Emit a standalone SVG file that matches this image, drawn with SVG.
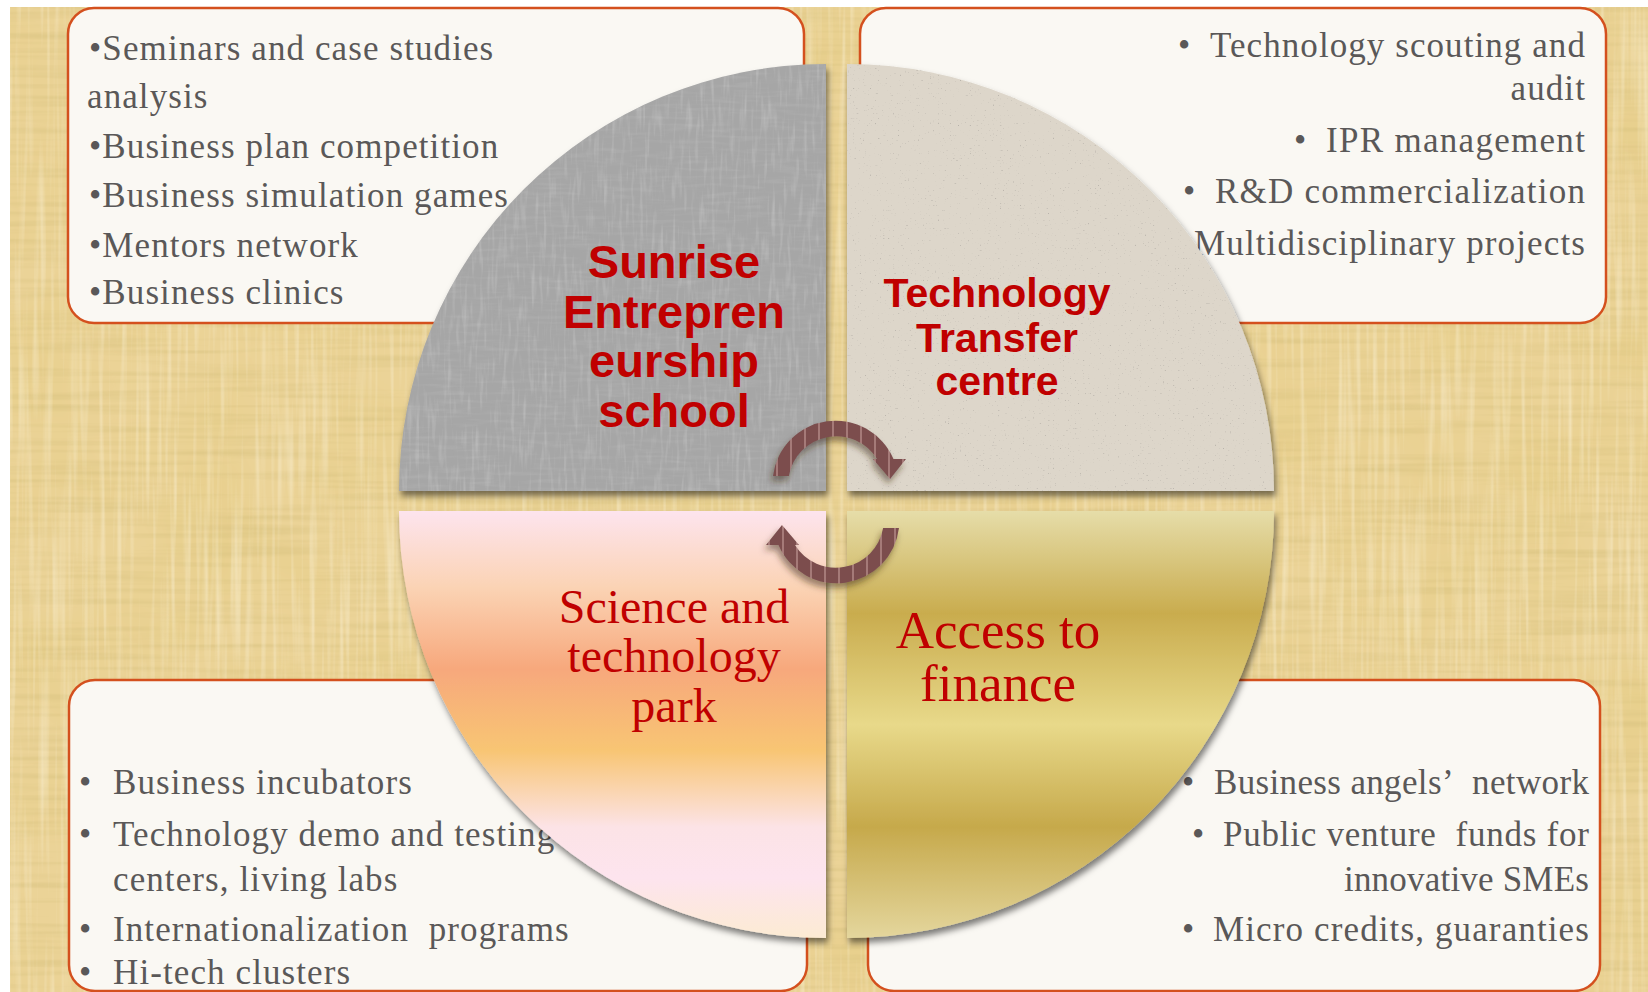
<svg xmlns="http://www.w3.org/2000/svg" width="1648" height="992" viewBox="0 0 1648 992">
  <defs>
    <style>
      .box { fill: #FAF8F3; stroke: #D4501E; stroke-width: 2.5; }
      .item { font-family: "Liberation Serif", "Times New Roman", serif; font-size: 35px; fill: #5A5858; letter-spacing: 1.1px; }
      .item-end { text-anchor: end; }
      .sans-label { font-family: "Liberation Sans", Arial, sans-serif; font-weight: bold; fill: #C00000; text-anchor: middle; }
      .serif-label { font-family: "Liberation Serif", "Times New Roman", serif; fill: #C00000; text-anchor: middle; }
    </style>

    <!-- linen weave for the backdrop -->
    <filter id="linenH" x="0" y="0" width="100%" height="100%">
      <feTurbulence type="fractalNoise" baseFrequency="0.006 0.18" numOctaves="2" seed="3"/>
      <feColorMatrix type="matrix" values="0 0 0 0 0.66  0 0 0 0 0.52  0 0 0 0 0.2  1.1 0 0 0 -0.48"/>
    </filter>
    <filter id="linenV" x="0" y="0" width="100%" height="100%">
      <feTurbulence type="fractalNoise" baseFrequency="0.18 0.006" numOctaves="2" seed="8"/>
      <feColorMatrix type="matrix" values="0 0 0 0 1  0 0 0 0 0.95  0 0 0 0 0.8  1.0 0 0 0 -0.46"/>
    </filter>
    <filter id="blotch" x="0" y="0" width="100%" height="100%">
      <feTurbulence type="fractalNoise" baseFrequency="0.012" numOctaves="2" seed="21"/>
      <feColorMatrix type="matrix" values="0 0 0 0 0.78  0 0 0 0 0.6  0 0 0 0 0.22  0.9 0 0 0 -0.3"/>
    </filter>

    <!-- grey cloth texture -->
    <filter id="clothTex" x="0" y="0" width="100%" height="100%">
      <feTurbulence type="fractalNoise" baseFrequency="0.03 0.25" numOctaves="2" seed="5" result="n1"/>
      <feColorMatrix in="n1" type="matrix" values="0 0 0 0 0.52  0 0 0 0 0.52  0 0 0 0 0.52  0.7 0 0 0 -0.33" result="c1"/>
      <feTurbulence type="fractalNoise" baseFrequency="0.25 0.03" numOctaves="2" seed="9" result="n2"/>
      <feColorMatrix in="n2" type="matrix" values="0 0 0 0 0.76  0 0 0 0 0.76  0 0 0 0 0.76  0.7 0 0 0 -0.35" result="c2"/>
      <feMerge result="m"><feMergeNode in="c1"/><feMergeNode in="c2"/></feMerge>
      <feComposite in="m" in2="SourceGraphic" operator="in"/>
    </filter>

    <!-- speckled paper texture -->
    <filter id="speckTex" x="0" y="0" width="100%" height="100%">
      <feTurbulence type="fractalNoise" baseFrequency="0.6" numOctaves="1" seed="11" result="n"/>
      <feColorMatrix in="n" type="matrix" values="0 0 0 0 0.45  0 0 0 0 0.42  0 0 0 0 0.38  -6 0 0 0 1.9" result="s"/>
      <feComposite in="s" in2="SourceGraphic" operator="in"/>
    </filter>

    <filter id="shadow" x="-10%" y="-10%" width="125%" height="125%">
      <feDropShadow dx="2" dy="5" stdDeviation="3" flood-color="#000" flood-opacity="0.5"/>
    </filter>
    <filter id="arrowShadow" x="-20%" y="-20%" width="140%" height="150%">
      <feDropShadow dx="-2" dy="5" stdDeviation="3" flood-color="#3A2A10" flood-opacity="0.5"/>
    </filter>

    <linearGradient id="peachFill" x1="0" y1="511" x2="0" y2="938" gradientUnits="userSpaceOnUse">
      <stop offset="0" stop-color="#FDE4EE"/>
      <stop offset="0.18" stop-color="#FBD3B4"/>
      <stop offset="0.37" stop-color="#F7A87C"/>
      <stop offset="0.56" stop-color="#F8C573"/>
      <stop offset="0.74" stop-color="#FCE3E6"/>
      <stop offset="0.86" stop-color="#FDE4EE"/>
      <stop offset="1" stop-color="#FCEBD3"/>
    </linearGradient>
    <linearGradient id="goldFill" x1="0" y1="511" x2="0" y2="938" gradientUnits="userSpaceOnUse">
      <stop offset="0" stop-color="#E6DDA9"/>
      <stop offset="0.24" stop-color="#C9AC4E"/>
      <stop offset="0.5" stop-color="#E8D98A"/>
      <stop offset="0.74" stop-color="#C6A94B"/>
      <stop offset="1" stop-color="#E4D69D"/>
    </linearGradient>

    <pattern id="stripes" x="0" y="0" width="14" height="14" patternUnits="userSpaceOnUse">
      <rect width="14" height="14" fill="#7B4E4E"/>
      <rect x="6" width="2" height="14" fill="#A57A78"/>
    </pattern>
  </defs>

  <!-- backdrop -->
  <rect width="1648" height="992" fill="#FFFFFF"/>
  <rect x="10" y="7" width="1638" height="985" fill="#EBD397"/>
  <rect x="10" y="7" width="1638" height="985" filter="url(#blotch)"/>
  <rect x="10" y="7" width="1638" height="985" filter="url(#linenH)"/>
  <rect x="10" y="7" width="1638" height="985" filter="url(#linenV)"/>

  <!-- text panels -->
  <g id="panel-school">
    <rect class="box" x="68" y="8" width="736" height="315" rx="26"/>
    <text class="item" x="89" y="60">•Seminars and case studies</text>
    <text class="item" x="87" y="108">analysis</text>
    <text class="item" x="89" y="158">•Business plan competition</text>
    <text class="item" x="89" y="207">•Business simulation games</text>
    <text class="item" x="89" y="257">•Mentors network</text>
    <text class="item" x="89" y="304">•Business clinics</text>
  </g>

  <g id="panel-transfer">
    <rect class="box" x="860" y="8" width="746" height="315" rx="26"/>
    <text class="item" x="1178" y="57">•</text>
    <text class="item item-end" x="1586" y="57" textLength="376" lengthAdjust="spacing">Technology scouting and</text>
    <text class="item item-end" x="1586" y="100">audit</text>
    <text class="item" x="1294" y="152">•</text>
    <text class="item item-end" x="1586" y="152" textLength="260" lengthAdjust="spacing">IPR management</text>
    <text class="item" x="1183" y="203">•</text>
    <text class="item item-end" x="1586" y="203" textLength="371" lengthAdjust="spacing">R&amp;D commercialization</text>
    <text class="item item-end" x="1586" y="255" textLength="392" lengthAdjust="spacing">Multidisciplinary projects</text>
  </g>

  <g id="panel-park">
    <rect class="box" x="69" y="680" width="738" height="311" rx="26"/>
    <text class="item" y="794"><tspan x="79">•</tspan><tspan x="113">Business incubators</tspan></text>
    <text class="item" y="846"><tspan x="79">•</tspan><tspan x="113">Technology demo and testing</tspan></text>
    <text class="item" x="113" y="891">centers, living labs</text>
    <text class="item" y="941"><tspan x="79">•</tspan><tspan x="113">Internationalization&#160; programs</tspan></text>
    <text class="item" y="984"><tspan x="79">•</tspan><tspan x="113">Hi-tech clusters</tspan></text>
  </g>

  <g id="panel-finance">
    <rect class="box" x="868" y="680" width="732" height="311" rx="26"/>
    <text class="item" x="1182" y="794">•</text>
    <text class="item item-end" x="1590" y="794" textLength="376" lengthAdjust="spacing">Business angels’&#160; network</text>
    <text class="item" x="1192" y="846">•</text>
    <text class="item item-end" x="1590" y="846" textLength="367" lengthAdjust="spacing">Public venture&#160; funds for</text>
    <text class="item item-end" x="1590" y="891" textLength="246" lengthAdjust="spacing">innovative SMEs</text>
    <text class="item" x="1182" y="941">•</text>
    <text class="item item-end" x="1590" y="941" textLength="377" lengthAdjust="spacing">Micro credits, guaranties</text>
  </g>

  <!-- four quarter discs -->
  <g id="node-school">
    <g filter="url(#shadow)">
      <path d="M826,491 L399,491 A427,427 0 0 1 826,64 Z" fill="#A6A6A6"/>
    </g>
    <path d="M826,491 L399,491 A427,427 0 0 1 826,64 Z" fill="#A6A6A6" filter="url(#clothTex)"/>
    <text class="sans-label" font-size="47" x="674" y="278">Sunrise</text>
    <text class="sans-label" font-size="47" x="674" y="328">Entrepren</text>
    <text class="sans-label" font-size="47" x="674" y="377">eurship</text>
    <text class="sans-label" font-size="47" x="674" y="427">school</text>
  </g>

  <g id="node-transfer">
    <g filter="url(#shadow)">
      <path d="M847,491 L847,64 A427,427 0 0 1 1274,491 Z" fill="#DDD6CA"/>
    </g>
    <path d="M847,491 L847,64 A427,427 0 0 1 1274,491 Z" fill="#DDD6CA" filter="url(#speckTex)"/>
    <text class="sans-label" font-size="41" x="997" y="307">Technology</text>
    <text class="sans-label" font-size="41" x="997" y="352">Transfer</text>
    <text class="sans-label" font-size="41" x="997" y="395">centre</text>
  </g>

  <g id="node-park">
    <path d="M826,511 L826,938 A427,427 0 0 1 399,511 Z" fill="url(#peachFill)" filter="url(#shadow)"/>
    <text class="serif-label" font-size="48" x="674" y="623">Science and</text>
    <text class="serif-label" font-size="48" x="674" y="672">technology</text>
    <text class="serif-label" font-size="48" x="674" y="722">park</text>
  </g>

  <g id="node-finance">
    <path d="M847,511 L1274,511 A427,427 0 0 1 847,938 Z" fill="url(#goldFill)" filter="url(#shadow)"/>
    <text class="serif-label" font-size="53" x="998" y="648">Access to</text>
    <text class="serif-label" font-size="53" x="998" y="701">finance</text>
  </g>

  <!-- circular cycle arrows -->
  <g id="connectors" filter="url(#arrowShadow)">
    <path id="cycle-top" d="M773,476 A63,63 0 0 1 893.5,459 L906,459 L890,479 L873,459 L877,459 A48,48 0 0 0 788.9,476 Z" fill="url(#stripes)"/>
    <path id="cycle-bottom" transform="rotate(180 836 502)" d="M773,476 A63,63 0 0 1 893.5,459 L906,459 L890,479 L873,459 L877,459 A48,48 0 0 0 788.9,476 Z" fill="url(#stripes)"/>
  </g>
</svg>
